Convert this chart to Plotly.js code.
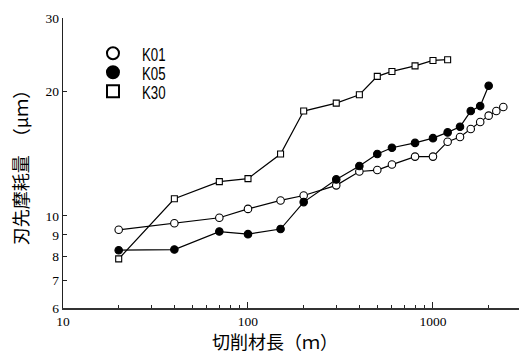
<!DOCTYPE html>
<html>
<head>
<meta charset="utf-8">
<script src="https://cdn.plot.ly/plotly-3.0.1.min.js"></script>
<style>
  html, body { margin: 0; padding: 0; background: #fff; }
  #chart { width: 519px; height: 353px; }
</style>
</head>
<body>
<div id="chart"></div>
<script>
// ---- data ----
const seriesNames = ["K01", "K05", "K30"];

const k01X = [20, 40, 70, 100, 150, 200, 300, 400, 500, 600, 800, 1000, 1200, 1400, 1600, 1800, 2000, 2200, 2400];
const k01Y = [9.26, 9.6, 9.9, 10.4, 10.9, 11.2, 11.85, 12.8, 12.9, 13.3, 13.9, 13.9, 15.1, 15.5, 16.2, 16.85, 17.45, 17.9, 18.3];

const k05X = [20, 40, 70, 100, 150, 200, 300, 400, 500, 600, 800, 1000, 1200, 1400, 1600, 1800, 2000];
const k05Y = [8.27, 8.3, 9.17, 9.04, 9.3, 10.8, 12.25, 13.2, 14.1, 14.6, 15.0, 15.4, 15.9, 16.4, 17.9, 18.4, 20.6];

const k30X = [20, 40, 70, 100, 150, 200, 300, 400, 500, 600, 800, 1000, 1200];
const k30Y = [7.88, 11.0, 12.1, 12.3, 14.1, 17.9, 18.7, 19.6, 21.7, 22.3, 23.0, 23.7, 23.8];

const xTickVals = [10, 100, 1000];
const xTickText = ["10", "100", "1000"];
const xMinorVals = [20, 30, 40, 50, 60, 70, 80, 90, 200, 300, 400, 500, 600, 700, 800, 900, 2000];
const yTickVals = [6, 7, 8, 9, 10, 20, 30];
const yTickText = ["6", "7", "8", "9", "10", "20", "30"];
const yLongTick = [10];

const xTitle = "切削材長（ｍ）";
const yTitle = "刃先摩耗量　（μｍ）";

// ---- styles ----
const serif = "Liberation Serif, Times New Roman, serif";
const cjk = "Noto Sans CJK JP, sans-serif";
const legFont = "Liberation Sans, Arial, sans-serif";

const styles = [
  { symbol: "circle", fill: "#ffffff", size: 7.5, legendY: 0.878, legend: "legend" },
  { symbol: "circle", fill: "#000000", size: 7.5, legendY: 0.8125, legend: "legend2" },
  { symbol: "square", fill: "#ffffff", size: 6, legendY: 0.747, legend: "legend3" }
];
const xs = [k01X, k05X, k30X];
const ys = [k01Y, k05Y, k30Y];

const traces = [];
for (let i = 0; i < 3; i++) {
  traces.push({
    x: xs[i], y: ys[i], type: "scatter", mode: "lines",
    line: { color: "#000", width: 1.2 },
    showlegend: false, hoverinfo: "skip"
  });
}
for (let i = 0; i < 3; i++) {
  traces.push({
    x: xs[i], y: ys[i], type: "scatter", mode: "markers",
    name: seriesNames[i],
    legend: styles[i].legend,
    marker: {
      symbol: styles[i].symbol, size: styles[i].size,
      color: styles[i].fill, line: { color: "#000", width: 1.1 }
    }
  });
}

function legendAt(y) {
  return {
    x: 0.046, xanchor: "left", y: y, yanchor: "middle",
    bgcolor: "rgba(0,0,0,0)", borderwidth: 0,
    font: { family: legFont, size: 19, color: "#000" },
    itemsizing: "constant", itemwidth: 48
  };
}

const layout = {
  width: 519, height: 353,
  margin: { l: 63, r: 0, t: 18, b: 45 },
  paper_bgcolor: "#fff", plot_bgcolor: "#fff",
  showlegend: true,
  legend: legendAt(styles[0].legendY),
  legend2: legendAt(styles[1].legendY),
  legend3: legendAt(styles[2].legendY),
  xaxis: {
    type: "log", range: [1, 3.465],
    showgrid: false, zeroline: false,
    showline: true, linecolor: "#333", linewidth: 1.6,
    ticks: "inside", ticklen: 6, tickwidth: 1, tickcolor: "#222",
    tickmode: "array", tickvals: xTickVals, ticktext: xTickText,
    tickfont: { family: serif, size: 13.5, color: "#000" },
    minor: { tickmode: "array", tickvals: xMinorVals, ticks: "inside", ticklen: 3, tickwidth: 1, tickcolor: "#222", showgrid: false },
    fixedrange: true
  },
  yaxis: {
    type: "log", range: [Math.log10(6), Math.log10(30)],
    showgrid: false, zeroline: false,
    showline: true, linecolor: "#222", linewidth: 1.4,
    ticks: "inside", ticklen: 3.5, tickwidth: 1, tickcolor: "#222",
    tickmode: "array", tickvals: yTickVals, ticktext: yTickText,
    tickfont: { family: serif, size: 13.5, color: "#000" },
    title: { text: yTitle, font: { family: cjk, size: 18, color: "#000" }, standoff: 12 },
    fixedrange: true
  },
  yaxis2: {
    type: "log", range: [Math.log10(6), Math.log10(30)],
    overlaying: "y", side: "left", anchor: "x",
    showgrid: false, zeroline: false, showline: false,
    ticks: "inside", ticklen: 6, tickwidth: 1, tickcolor: "#222",
    tickmode: "array", tickvals: yLongTick, showticklabels: false,
    fixedrange: true
  },
  annotations: [{
    text: xTitle, xref: "paper", yref: "paper",
    x: 0.466, y: -0.155, xanchor: "center", yanchor: "bottom",
    height: 20, valign: "middle",
    showarrow: false,
    font: { family: cjk, size: 18, color: "#000" }
  }]
};

function narrowLegendText() {
  const gd = document.getElementById("chart");
  gd.querySelectorAll("g.infolayer text").forEach(function (t) {
    const p = t.closest("g[class^='legend']");
    if (!p) return;
    if (t.getAttribute("data-narrowed")) return;
    const x = parseFloat(t.getAttribute("x")) || 0;
    t.setAttribute("transform", "translate(" + x + ",0) scale(0.7,1) translate(" + (-x) + ",0)");
    t.setAttribute("data-narrowed", "1");
  });
}

Plotly.newPlot("chart", traces, layout, { displayModeBar: false, staticPlot: true }).then(function () {
  narrowLegendText();
  setTimeout(narrowLegendText, 50);
  setTimeout(narrowLegendText, 300);
});
</script>
</body>
</html>
